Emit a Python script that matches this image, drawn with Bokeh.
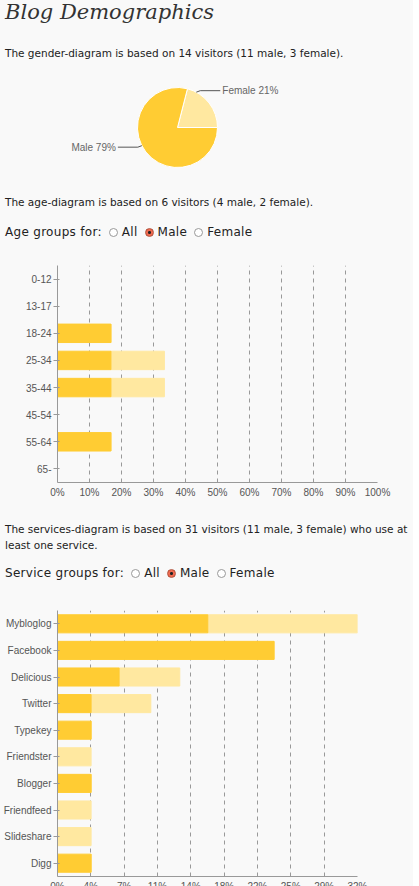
import math
from bokeh.plotting import figure
from bokeh.models import Div, Range1d, FactorRange, FixedTicker
from bokeh.layouts import column
from bokeh.core.properties import value
from bokeh.embed import file_html
from bokeh.resources import INLINE

gender_labels = ["Female", "Male"]
gender_share = [21, 79]

age_groups = ["0-12", "13-17", "18-24", "25-34", "35-44", "45-54", "55-64", "65-"]
age_male = [0, 0, 16.7, 16.7, 16.7, 0, 16.7, 0]
age_female = [0, 0, 0, 16.7, 16.7, 0, 0, 0]
age_ticks = [0, 10, 20, 30, 40, 50, 60, 70, 80, 90, 100]

services = ["Mybloglog", "Facebook", "Delicious", "Twitter", "Typekey", "Friendster",
            "Blogger", "Friendfeed", "Slideshare", "Digg"]
serv_male = [16.1, 23.2, 6.6, 3.6, 3.6, 0, 3.6, 0, 0, 3.6]
serv_female = [16.1, 0, 6.5, 6.4, 0, 3.6, 0, 3.6, 3.6, 0]
serv_ticks = [i * 32.14 / 9 for i in range(10)]
serv_tick_labels = ["0%", "4%", "7%", "11%", "14%", "18%", "22%", "25%", "29%", "32%"]

DARK = "#ffcc33"
LIGHT = "#ffe8a0"
BG = "#f9f9f9"
TXT = "font-family:'DejaVu Sans';font-size:10.5px;color:#222;"


def radio(label):
    def r(name, on):
        dot = ("<span style='display:inline-block;width:9px;height:9px;border-radius:6px;"
               "border:1px solid #b0503a;background:radial-gradient(#222 25%,#f06a50 35%);"
               "vertical-align:-1px;margin:0 4px 0 7px'></span>") if on else (
               "<span style='display:inline-block;width:9px;height:9px;border-radius:6px;"
               "border:1px solid #999;background:#fff;vertical-align:-1px;margin:0 4px 0 7px'></span>")
        return dot + name
    return ("<div style=\"font-family:'DejaVu Sans';font-size:12px;color:#222;letter-spacing:0.3px\">" + label + ":"
            + r("All", False) + r("Male", True) + r("Female", False) + "</div>")


div_a = Div(width=403, height=57, styles={"background": BG},
            text="<div style=\"font-family:'DejaVu Serif';font-style:italic;font-size:21px;color:#333;margin-top:-8px\">Blog Demographics</div>"
                 "<div style=\"" + TXT + "margin-top:19px\">The gender-diagram is based on 14 visitors (11 male, 3 female).</div>")

# pie
pie = figure(frame_width=403, frame_height=120, output_backend="svg", toolbar_location=None,
             x_range=Range1d(0, 403), y_range=Range1d(0, 120),
             min_border=0, background_fill_color=BG, border_fill_color=BG)
pie.axis.visible = False
pie.grid.visible = False
pie.outline_line_color = None
cx, cy, r = 120, 60, 40
starts, ends, ang = [], [], 0.0
for s in gender_share:
    starts.append(ang)
    ang += s / 100 * 2 * math.pi
    ends.append(ang)
pie.wedge(x=cx, y=cy, radius=r, start_angle=starts, end_angle=ends,
          color=[LIGHT, DARK], line_color="white", line_width=1)
for i, lab in enumerate(gender_labels):
    mid = math.radians(62) if i == 0 else math.radians(207)
    px, py = cx + r * math.cos(mid), cy + r * math.sin(mid)
    side = 1 if math.cos(mid) > 0 else -1
    ex = px + side * 20
    pie.line([px, px + side * 4, ex + side * 4], [py, py + side * 1.5, py + side * 1.5],
             color="#555", line_width=1)
    pie.text(x=[ex + side * 6], y=[py + side * 1.5], text=["%s %d%%" % (lab, gender_share[i])],
             text_font=value("Liberation Sans"), text_font_size="10px", text_color="#666",
             text_baseline="middle", text_align="left" if side > 0 else "right")

div_b = Div(width=403, height=58, styles={"background": BG},
            text="<div style=\"" + TXT + "margin-top:3px\">The age-diagram is based on 6 visitors (4 male, 2 female).</div>"
                 "<div style='margin-top:14px'>" + radio("Age groups for") + "</div>")


def bar_fig(cats, male, female, xend, ticks, labels, bl, fw, fh, bt, bb):
    p = figure(frame_width=fw, frame_height=fh, output_backend="svg", toolbar_location=None,
               y_range=FactorRange(*reversed(cats)), x_range=Range1d(0, xend),
               min_border_left=bl, min_border_right=403 - bl - fw, min_border_top=bt,
               min_border_bottom=bb, background_fill_color=BG, border_fill_color=BG)
    tot = [m + f for m, f in zip(male, female)]
    p.hbar(y=cats, left=male, right=tot, height=0.68, color=LIGHT)
    p.hbar(y=cats, left=0, right=male, height=0.68, color=DARK)
    p.xaxis.ticker = FixedTicker(ticks=ticks)
    p.xaxis.major_label_overrides = {t: l for t, l in zip(ticks, labels)}
    p.xgrid.ticker = FixedTicker(ticks=ticks[1:])
    p.xgrid.grid_line_color = "#999"
    p.xgrid.grid_line_dash = "4 4"
    p.ygrid.grid_line_color = None
    p.outline_line_color = None
    for ax in (p.xaxis, p.yaxis):
        ax.axis_line_color = "#999"
        ax.major_tick_line_color = "#999"
        ax.minor_tick_line_color = None
        ax.major_label_text_font = "Liberation Sans"
        ax.major_label_text_font_size = "10px"
        ax.major_label_text_color = "#555"
    p.xaxis.major_tick_in = 0
    p.xaxis.major_tick_out = 0
    p.xaxis.major_label_standoff = 4
    p.yaxis.major_tick_out = 4
    p.yaxis.major_label_standoff = 2
    p.y_range.range_padding = 0
    return p


age = bar_fig(age_groups, age_male, age_female, 100, age_ticks,
              ["%d%%" % t for t in age_ticks], 29, 320, 217, 10, 20)

div_c = Div(width=403, height=90, styles={"background": BG},
            text="<div style=\"" + TXT + "margin-top:14px;line-height:16px\">The services-diagram is based on 31 visitors (11 male, 3 female) who use at least one service.</div>"
                 "<div style='margin-top:12px'>" + radio("Service groups for") + "</div>")

serv = bar_fig(services, serv_male, serv_female, 32.14, serv_ticks, serv_tick_labels,
               53, 300, 266, 8, 18)

p = column(div_a, pie, div_b, age, div_c, serv, spacing=0, styles={"background": BG})
open("out.html", "w").write(file_html(p, INLINE))
